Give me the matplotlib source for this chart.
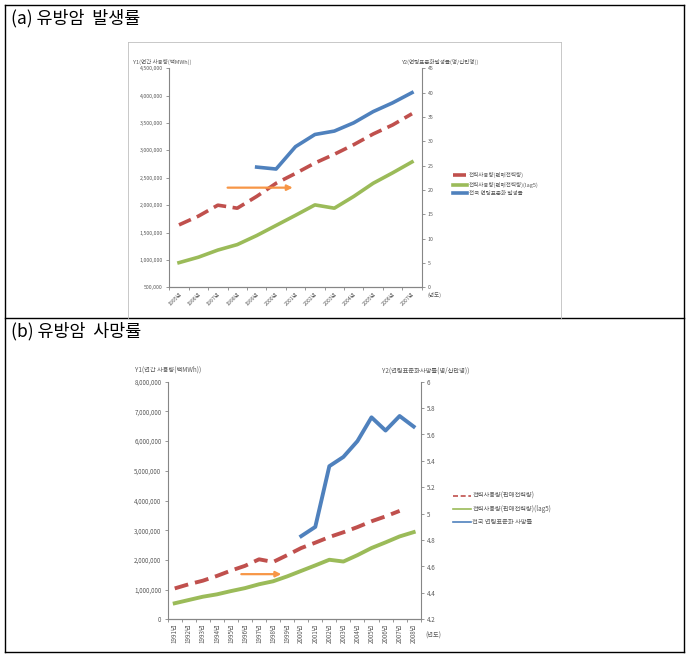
import matplotlib
matplotlib.use("Agg")
import matplotlib.pyplot as plt
import matplotlib.ticker as ticker
import numpy as np
from matplotlib.lines import Line2D

plt.rcParams["font.family"] = ["Noto Sans CJK KR", "DejaVu Sans"]

# ---------------------------------------------------------------------------
# Data
# ---------------------------------------------------------------------------
years_a = ["1995년", "1996년", "1997년", "1998년", "1999년", "2000년", "2001년",
           "2002년", "2003년", "2004년", "2005년", "2006년", "2007년"]
power_a = [1640000, 1800000, 2000000, 1945000, 2160000, 2400000, 2580000,
           2770000, 2930000, 3105000, 3300000, 3465000, 3670000]
power_lag5_a = [950000, 1050000, 1180000, 1280000, 1445000, 1630000, 1815000,
                2005000, 1945000, 2160000, 2400000, 2590000, 2790000]
incidence_a = [np.nan, np.nan, np.nan, np.nan, 24.7, 24.3, 28.9, 31.4, 32.1,
               33.8, 36.1, 37.9, 40.0]

years_b = ["1991년", "1992년", "1993년", "1994년", "1995년", "1996년", "1997년",
           "1998년", "1999년", "2000년", "2001년", "2002년", "2003년", "2004년",
           "2005년", "2006년", "2007년", "2008년"]
power_b = [1040000, 1180000, 1300000, 1460000, 1640000, 1800000, 2020000,
           1930000, 2160000, 2400000, 2580000, 2770000, 2930000, 3105000,
           3300000, 3465000, 3650000, np.nan]
power_lag5_b = [540000, 650000, 760000, 840000, 950000, 1050000, 1180000,
                1280000, 1445000, 1630000, 1815000, 2005000, 1945000, 2160000,
                2400000, 2590000, 2790000, 2935000]
mortality_b = [np.nan] * 9 + [4.83, 4.90, 5.36, 5.43, 5.55, 5.73, 5.63, 5.74, 5.66]

W, H = 691, 656
RED, GREEN, BLUE, ORANGE = "#C0504D", "#9BBB59", "#4F81BD", "#F79646"
AXIS_C, TXT_C = "#868686", "#595959"
DASH = (0, (3.6, 1.8))


def px_axes(fig, left, top, right, bottom):
    return fig.add_axes([left / W, 1 - bottom / H, (right - left) / W, (bottom - top) / H])


def style_axes(ax, ax2, n, fs):
    for a in (ax, ax2):
        a.spines["top"].set_visible(False)
        for s in ("left", "right", "bottom"):
            a.spines[s].set_color(AXIS_C)
            a.spines[s].set_linewidth(0.8)
        a.tick_params(axis="y", colors=AXIS_C, labelcolor=TXT_C, labelsize=fs,
                      length=2.5, width=0.6, pad=2)
    ax.spines["right"].set_visible(False)
    ax2.spines["left"].set_visible(False)
    ax.set_xlim(-0.5, n - 0.5)
    ax.set_xticks(np.arange(n))
    ax.set_xticks(np.arange(n + 1) - 0.5, minor=True)
    ax.tick_params(axis="x", which="major", length=0, labelsize=fs, labelcolor=TXT_C, pad=3)
    ax.tick_params(axis="x", which="minor", length=2.5, width=0.6, colors=AXIS_C)


def fig_line(fig, x0, y0, x1, y1, lw=1.0, color="black"):
    fig.add_artist(Line2D([x0 / W, x1 / W], [1 - y0 / H, 1 - y1 / H],
                          transform=fig.transFigure, color=color, linewidth=lw))


fig = plt.figure(figsize=(W / 100, H / 100), dpi=100)

# table frame
fig_line(fig, 5, 5, 684, 5)
fig_line(fig, 5, 652, 684, 652)
fig_line(fig, 5, 5, 5, 652)
fig_line(fig, 684, 5, 684, 652)
fig_line(fig, 5, 318, 684, 318)
# inner chart frame of panel (a)
fig_line(fig, 128, 42, 561, 42, lw=0.6, color="#BFBFBF")
fig_line(fig, 128, 42, 128, 318, lw=0.6, color="#BFBFBF")
fig_line(fig, 561, 42, 561, 318, lw=0.6, color="#BFBFBF")

fig.text(11 / W, 1 - 18 / H, "(a) 유방암  발생률", fontsize=12.5, va="center", ha="left")
fig.text(11 / W, 1 - 331 / H, "(b) 유방암  사망률", fontsize=12.5, va="center", ha="left")

# ---------------------------------------------------------------------------
# Panel (a)
# ---------------------------------------------------------------------------
ax = px_axes(fig, 169.3, 68.3, 421.7, 287.3)
ax2 = ax.twinx()
xa = np.arange(len(years_a))
l1, = ax.plot(xa, power_a, color=RED, linestyle=DASH, linewidth=2.6,
              label="전력사용량(판매전력량)")
l2, = ax.plot(xa, power_lag5_a, color=GREEN, linewidth=2.6,
              label="전력사용량(판매전력량)(lag5)")
l3, = ax2.plot(xa, incidence_a, color=BLUE, linewidth=2.6,
               label="전국 연령표준화 발생률")
ax.set_ylim(500000, 4500000)
ax.yaxis.set_major_locator(ticker.MultipleLocator(500000))
ax.yaxis.set_major_formatter(ticker.StrMethodFormatter("{x:,.0f}"))
ax2.set_ylim(0, 45)
ax2.yaxis.set_major_locator(ticker.MultipleLocator(5))
style_axes(ax, ax2, len(years_a), 3.8)
ax.set_xticklabels(years_a, rotation=45, ha="right", va="top", rotation_mode="anchor")
ax.annotate("", xy=(0.50, 0.455), xytext=(0.22, 0.455), xycoords="axes fraction",
            arrowprops=dict(arrowstyle="-|>", color=ORANGE, lw=1.6,
                            mutation_scale=8))
fig.text(133 / W, 1 - 62 / H, "Y1(연간 사용량(백MWh))", fontsize=4, color=TXT_C,
         va="center")
fig.text(402 / W, 1 - 62 / H, "Y2(연령표준화발생률(명/십만명))", fontsize=4,
         color=TXT_C, va="center")
fig.text(428 / W, 1 - 295 / H, "(년도)", fontsize=4, color=TXT_C, va="center")
fig.legend(handles=[l1, l2, l3], loc="center left",
           bbox_to_anchor=(450 / W, 1 - 184 / H), frameon=False, fontsize=4,
           handlelength=2.6, handletextpad=0.3, labelspacing=0.6, borderpad=0,
           labelcolor=TXT_C)

# ---------------------------------------------------------------------------
# Panel (b)
# ---------------------------------------------------------------------------
bx = px_axes(fig, 167.7, 381.7, 420.7, 619.3)
bx2 = bx.twinx()
xb = np.arange(len(years_b))
m1, = bx.plot(xb, power_b, color=RED, linestyle=DASH, linewidth=2.8,
              label="전력사용량(판매전력량)")
m2, = bx.plot(xb, power_lag5_b, color=GREEN, linewidth=2.8,
              label="전력사용량(판매전력량)(lag5)")
m3, = bx2.plot(xb, mortality_b, color=BLUE, linewidth=2.8,
               label="전국 연령표준화 사망률")
bx.set_ylim(0, 8000000)
bx.yaxis.set_major_locator(ticker.MultipleLocator(1000000))
bx.yaxis.set_major_formatter(ticker.StrMethodFormatter("{x:,.0f}"))
bx2.set_ylim(4.2, 6.0)
bx2.yaxis.set_major_locator(ticker.MultipleLocator(0.2))
bx2.yaxis.set_major_formatter(ticker.FuncFormatter(
    lambda v, p: f"{round(v)}" if abs(v - round(v)) < 1e-6 else f"{v:.1f}"))
style_axes(bx, bx2, len(years_b), 4.5)
bx.set_xticklabels(years_b, rotation=90, ha="center", va="top")
bx.annotate("", xy=(0.46, 0.19), xytext=(0.28, 0.19), xycoords="axes fraction",
            arrowprops=dict(arrowstyle="-|>", color=ORANGE, lw=1.6,
                            mutation_scale=8))
fig.text(135 / W, 1 - 370 / H, "Y1(연간 사용량(백MWh))", fontsize=4.5, color=TXT_C,
         va="center")
fig.text(382 / W, 1 - 371 / H, "Y2(연령표준화사망률(명/십만명))", fontsize=4.5,
         color=TXT_C, va="center")
fig.text(425 / W, 1 - 636 / H, "(년도)", fontsize=4.5, color=TXT_C, va="center")
h1 = Line2D([], [], color=RED, linestyle=(0, (3, 1.6)), linewidth=1.2)
h2 = Line2D([], [], color=GREEN, linewidth=1.2)
h3 = Line2D([], [], color=BLUE, linewidth=1.2)
fig.legend(handles=[h1, h2, h3], labels=[m1.get_label(), m2.get_label(), m3.get_label()],
           loc="center left", bbox_to_anchor=(450 / W, 1 - 509 / H), frameon=False,
           fontsize=4.5, handlelength=2.8, handletextpad=0.3, labelspacing=0.8,
           borderpad=0, labelcolor=TXT_C)

fig.savefig("out.png", dpi=100)
plt.close(fig)
